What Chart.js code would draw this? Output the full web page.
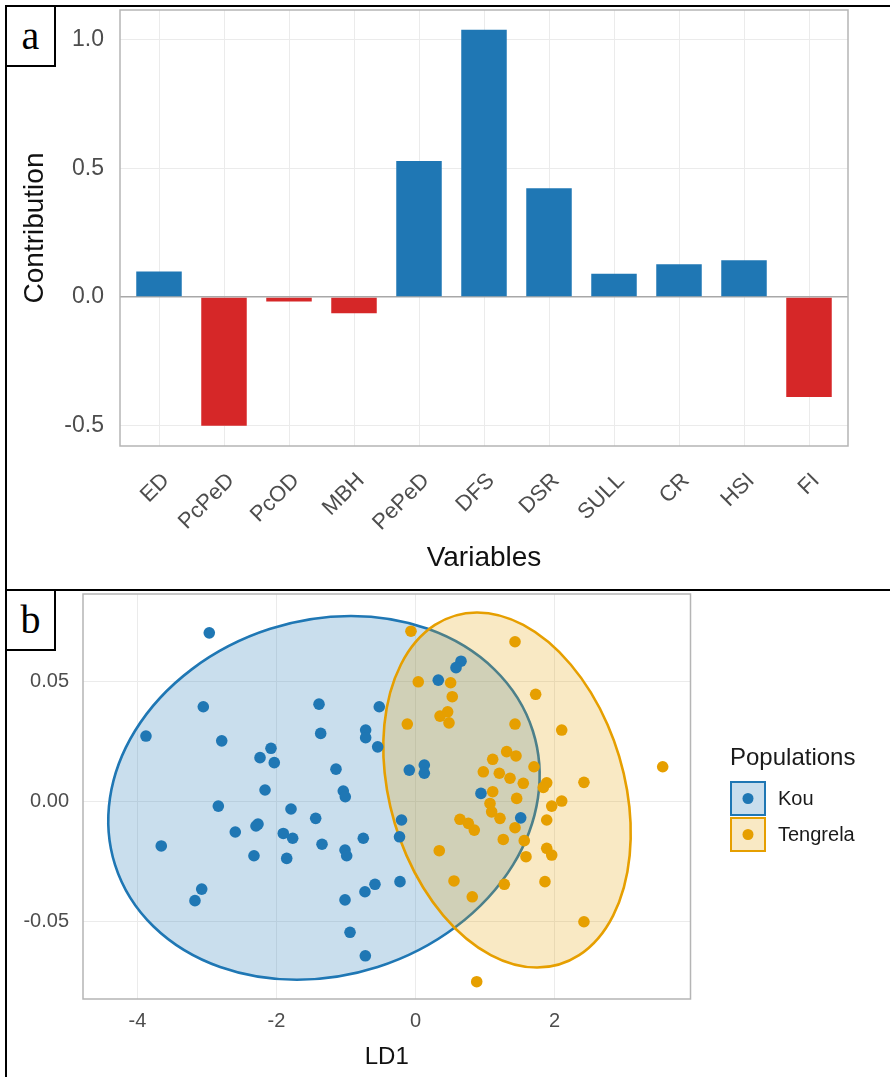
<!DOCTYPE html>
<html>
<head>
<meta charset="utf-8">
<script src="https://cdn.jsdelivr.net/npm/chart.js@4.4.1/dist/chart.umd.min.js"></script>
<style>
  html, body { margin: 0; padding: 0; background: #fff; }
  #fig { position: relative; width: 890px; height: 1077px; background: #fff; overflow: hidden; }
  #chartA { position: absolute; left: 0; top: 0; }
  #chartB { position: absolute; left: 0; top: 590px; }
  .rule { position: absolute; background: #000; }
  .tag {
    position: absolute; box-sizing: border-box; width: 51px; height: 62px;
    border: 2px solid #000; background: #fff; color: #000;
    font: 40px "Liberation Serif", "Times New Roman", serif;
    line-height: 58px; text-align: center;
  }
</style>
</head>
<body>
<div id="fig">
  <canvas id="chartA" width="890" height="590"></canvas>
  <canvas id="chartB" width="890" height="487"></canvas>
  <div class="rule" style="left:5px; top:5px; width:885px; height:2px;"></div>
  <div class="rule" style="left:5px; top:5px; width:2px; height:1072px;"></div>
  <div class="rule" style="left:5px; top:589px; width:885px; height:2px;"></div>
  <div class="tag" style="left:5px; top:5px;">a</div>
  <div class="tag" style="left:5px; top:589px;">b</div>
</div>
<script>
// ---- panel a: variable contributions ----
const variables = ['ED', 'PcPeD', 'PcOD', 'MBH', 'PePeD', 'DFS', 'DSR', 'SULL', 'CR', 'HSI', 'FI'];
const contribution = [0.099, -0.500, -0.017, -0.063, 0.528, 1.038, 0.422, 0.090, 0.127, 0.143, -0.388];
const contribTicks = [-0.5, 0, 0.5, 1.0];

// ---- panel b: LDA scores ----
const populations = ['Kou', 'Tengrela'];
const kouLD1 = [-2.967, -3.053, -3.878, -2.788, -2.079, -2.237, -2.032, -2.165, -2.837, -1.791,
                -1.436, -2.266, -2.295, -2.593, -1.902, -1.767, -3.658, -1.345, -2.324, -1.853,
                -0.751, -1.014, -0.990, -3.076, -3.173, -0.583, -0.727, -1.014, -0.942, -0.722,
                -1.388, -1.364, -0.717, -0.717, -0.521, -0.544, -1.144, -1.039, -1.010, -0.201,
                -0.230, -0.223, 0.655, 0.583, 0.328, -0.089, 0.127, 0.127, 0.942, 1.514];
const kouLD2 = [0.0703, 0.0395, 0.0273, 0.0253, 0.0222, 0.0183, 0.0162, 0.0048, -0.0019, -0.0031,
                -0.0070, -0.0094, -0.0102, -0.0127, -0.0133, -0.0153, -0.0185, -0.0178, -0.0226, -0.0237,
                -0.0153, -0.0202, -0.0226, -0.0365, -0.0413, -0.0345, -0.0376, -0.0410, -0.0545, -0.0643,
                0.0406, 0.0284, 0.0298, 0.0266, 0.0395, 0.0228, 0.0135, 0.0044, 0.0020, -0.0077,
                -0.0147, -0.0334, 0.0585, 0.0558, 0.0506, 0.0131, 0.0152, 0.0118, 0.0034, -0.0068];
const tengLD1 = [-0.065, 1.432, 0.040, 0.506, 0.529, 1.729, 0.353, 0.463, 0.482, -0.118,
                 1.432, 2.104, 1.312, 1.446, 1.111, 1.705, 3.557, 0.976, 1.206, 1.360,
                 1.551, 1.888, 1.839, 2.424, 1.111, 1.456, 2.104, 1.960, 1.072, 1.096,
                 1.216, 1.888, 0.640, 0.760, 0.846, 1.432, 1.263, 1.565, 0.342, 1.888,
                 1.960, 1.590, 0.554, 1.278, 1.863, 0.817, 2.424, 0.881];
const tengLD2 = [0.0710, 0.0666, 0.0499, 0.0495, 0.0437, 0.0447, 0.0356, 0.0374, 0.0328, 0.0323,
                 0.0323, 0.0298, 0.0208, 0.0190, 0.0176, 0.0145, 0.0145, 0.0124, 0.0118, 0.0097,
                 0.0076, 0.0078, 0.0059, 0.0080, 0.0041, 0.0013, 0.0002, -0.0019, -0.0008, -0.0043,
                 -0.0070, -0.0077, -0.0074, -0.0091, -0.0119, -0.0109, -0.0158, -0.0163, -0.0205, -0.0195,
                 -0.0223, -0.0230, -0.0331, -0.0345, -0.0334, -0.0397, -0.0501, -0.0751];
const ld1Ticks = [-4, -2, 0, 2];
const ld2Ticks = [-0.05, 0, 0.05];
// confidence ellipses: centre (LD1, LD2), then two conjugate half-axes
const kouEllipse = [-1.317, 0.0015, 3.079, 0, 0.388, 0.0758];
const tengEllipse = [1.317, 0.0048, 1.727, 0, -0.432, 0.0740];

const sans = '"Liberation Sans", Arial, sans-serif';
const popColors = ['#1F77B4', '#E69F00'];
const popFills = ['rgba(31,119,180,0.24)', 'rgba(230,159,0,0.23)'];

// grey panel border like ggplot
const framePlugin = {
  id: 'frame',
  afterDraw(chart) {
    const { ctx, chartArea: a } = chart;
    ctx.save();
    ctx.strokeStyle = '#b5b5b5';
    ctx.lineWidth = 1.5;
    ctx.strokeRect(a.left, a.top, a.right - a.left, a.bottom - a.top);
    ctx.restore();
  }
};

new Chart(document.getElementById('chartA'), {
  type: 'bar',
  data: {
    datasets: [{
      data: variables.map((v, i) => ({ x: i, y: contribution[i] })),
      backgroundColor: contribution.map(v => v >= 0 ? '#1F77B4' : '#D62728'),
      barPercentage: 0.7,
      categoryPercentage: 1
    }]
  },
  options: {
    responsive: false,
    animation: false,
    events: [],
    layout: { padding: { top: 10, right: 42, left: 0, bottom: 0 }, autoPadding: false },
    plugins: { legend: { display: false }, tooltip: { enabled: false } },
    scales: {
      x: {
        type: 'linear', min: -0.6, max: 10.6, offset: false,
        grid: { color: '#ebebeb', lineWidth: 1, drawTicks: false, offset: false },
        border: { display: false },
        afterBuildTicks: s => { s.ticks = variables.map((v, i) => ({ value: i })); },
        afterFit: s => { s.height = 144; s.paddingLeft = 0; s.paddingRight = 0; },
        ticks: {
          callback: v => variables[v],
          minRotation: 45, maxRotation: 45, autoSkip: false,
          font: { family: sans, size: 22 }, color: '#4d4d4d',
          padding: 22, labelOffset: 7
        },
        title: { display: true, text: 'Variables', font: { family: sans, size: 28 }, color: '#111', padding: { top: 0, bottom: 15 } }
      },
      y: {
        min: -0.5786, max: 1.1146,
        afterBuildTicks: s => { s.ticks = contribTicks.map(v => ({ value: v })); },
        afterFit: s => { s.width = 120; s.paddingTop = 0; s.paddingBottom = 0; },
        grid: {
          color: c => (c.tick && c.tick.value === 0) ? '#a8a8a8' : '#ebebeb',
          lineWidth: c => (c.tick && c.tick.value === 0) ? 1.6 : 1,
          drawTicks: false
        },
        border: { display: false },
        ticks: { callback: v => v.toFixed(1), font: { family: sans, size: 23 }, color: '#4d4d4d', padding: 16 },
        title: { display: true, text: 'Contribution', font: { family: sans, size: 28 }, color: '#111', padding: { top: 18, bottom: 0 } }
      }
    }
  },
  plugins: [framePlugin]
});

// ellipses are drawn through the chart's own scales
const ellipsePlugin = {
  id: 'ellipses',
  beforeDatasetsDraw(chart) {
    const { ctx, chartArea: a, scales: { x, y } } = chart;
    ctx.save();
    ctx.beginPath();
    ctx.rect(a.left, a.top, a.right - a.left, a.bottom - a.top);
    ctx.clip();
    [kouEllipse, tengEllipse].forEach((e, k) => {
      const cx = x.getPixelForValue(e[0]), cy = y.getPixelForValue(e[1]);
      const ux = x.getPixelForValue(e[0] + e[2]) - cx, uy = y.getPixelForValue(e[1] + e[3]) - cy;
      const vx = x.getPixelForValue(e[0] + e[4]) - cx, vy = y.getPixelForValue(e[1] + e[5]) - cy;
      ctx.save();
      ctx.transform(ux, uy, vx, vy, cx, cy);
      ctx.beginPath();
      ctx.arc(0, 0, 1, 0, Math.PI * 2);
      ctx.restore();
      ctx.fillStyle = popFills[k];
      ctx.fill();
      ctx.lineWidth = 2.6;
      ctx.strokeStyle = popColors[k];
      ctx.stroke();
    });
    ctx.restore();
  }
};

const legendPlugin = {
  id: 'popLegend',
  afterDraw(chart) {
    const ctx = chart.ctx;
    const left = 730;
    ctx.save();
    ctx.textAlign = 'left';
    ctx.textBaseline = 'middle';
    ctx.fillStyle = '#1a1a1a';
    ctx.font = '24px ' + sans;
    ctx.fillText('Populations', left, 168);
    populations.forEach((p, i) => {
      const top = 191 + i * 36;
      ctx.fillStyle = '#fff';
      ctx.fillRect(left, top, 36, 35);
      ctx.fillStyle = popFills[i];
      ctx.fillRect(left, top, 36, 35);
      ctx.strokeStyle = popColors[i];
      ctx.lineWidth = 2;
      ctx.strokeRect(left + 1, top + 1, 34, 33);
      ctx.beginPath();
      ctx.arc(left + 18, top + 17.5, 5.5, 0, Math.PI * 2);
      ctx.fillStyle = popColors[i];
      ctx.fill();
      ctx.fillStyle = '#1a1a1a';
      ctx.font = '20px ' + sans;
      ctx.fillText(p, left + 48, top + 18);
    });
    ctx.restore();
  }
};

new Chart(document.getElementById('chartB'), {
  type: 'scatter',
  data: {
    datasets: [
      { label: populations[0], data: kouLD1.map((v, i) => ({ x: v, y: kouLD2[i] })),
        backgroundColor: popColors[0], borderColor: popColors[0], borderWidth: 0, pointRadius: 5.8 },
      { label: populations[1], data: tengLD1.map((v, i) => ({ x: v, y: tengLD2[i] })),
        backgroundColor: popColors[1], borderColor: popColors[1], borderWidth: 0, pointRadius: 5.8 }
    ]
  },
  options: {
    responsive: false,
    animation: false,
    events: [],
    layout: { padding: { top: 4, right: 199.5, left: 0, bottom: 0 }, autoPadding: false },
    plugins: { legend: { display: false }, tooltip: { enabled: false } },
    scales: {
      x: {
        type: 'linear', min: -4.784, max: 3.957,
        afterBuildTicks: s => { s.ticks = ld1Ticks.map(v => ({ value: v })); },
        afterFit: s => { s.height = 78; s.paddingLeft = 0; s.paddingRight = 0; },
        grid: { color: '#ebebeb', lineWidth: 1, drawTicks: false },
        border: { display: false },
        ticks: { callback: v => String(v), font: { family: sans, size: 20 }, color: '#4d4d4d', padding: 10 },
        title: { display: true, text: 'LD1', font: { family: sans, size: 24 }, color: '#111', padding: { top: 0, bottom: 5 } }
      },
      y: {
        type: 'linear', min: -0.0823, max: 0.0865,
        afterBuildTicks: s => { s.ticks = ld2Ticks.map(v => ({ value: v })); },
        afterFit: s => { s.width = 83; s.paddingTop = 0; s.paddingBottom = 0; },
        grid: { color: '#ebebeb', lineWidth: 1, drawTicks: false },
        border: { display: false },
        ticks: { callback: v => v.toFixed(2), font: { family: sans, size: 20 }, color: '#4d4d4d', padding: 14 }
      }
    }
  },
  plugins: [ellipsePlugin, framePlugin, legendPlugin]
});
</script>
</body>
</html>
